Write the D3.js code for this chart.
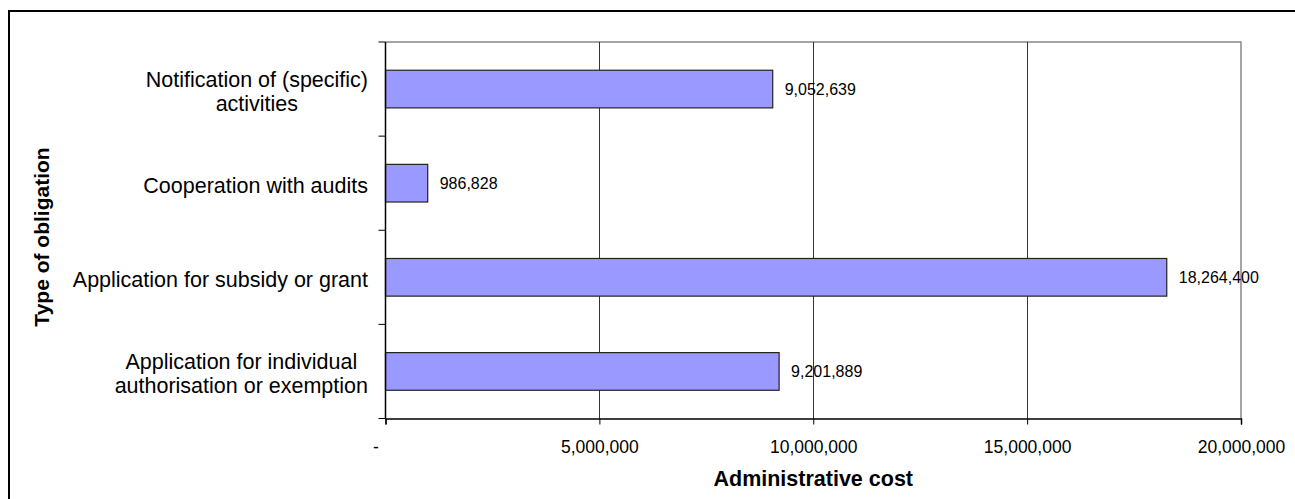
<!DOCTYPE html>
<html><head><meta charset="utf-8">
<script src="https://cdn.jsdelivr.net/npm/d3@7"></script>
<style>body{margin:0;background:#fff}svg{display:block;font-family:Arial,"Liberation Sans",sans-serif}</style>
</head><body><svg id="c" width="1295" height="499"></svg>
<script>
const categories = [
  ["Notification of (specific)", "activities"],
  ["Cooperation with audits"],
  ["Application for subsidy or grant"],
  ["Application for individual", "authorisation or exemption"]
];
const values = [9052639, 986828, 18264400, 9201889];
const xTicks = [0, 5000000, 10000000, 15000000, 20000000];
const xTitle = "Administrative cost";
const yTitle = "Type of obligation";

const svg = d3.select("#c");
const L = 385.5, R = 1241, T = 42, B = 418.5;

// outer frame
svg.append("rect").attr("x", 9).attr("y", 11).attr("width", 1300).attr("height", 500)
  .attr("fill", "none").attr("stroke", "#000").attr("stroke-width", 2);

const x = d3.scaleLinear().domain([0, 20000000]).range([L, R]);
const y = d3.scaleBand().domain(d3.range(categories.length)).range([T, B]).paddingInner(0.6).paddingOuter(0.3);
const yb = d3.scaleBand().domain(d3.range(categories.length)).range([T, B]);

// plot border (top/right gray)
svg.append("path").attr("d", `M${L},${T}H${R}V${B}`).attr("fill", "none").attr("stroke", "#888").attr("stroke-width", 1.5);

// gridlines
svg.append("g").selectAll("line").data(xTicks.slice(1, -1)).join("line")
  .attr("x1", d => Math.round(x(d)) + 0.5).attr("x2", d => Math.round(x(d)) + 0.5)
  .attr("y1", T).attr("y2", B).attr("stroke", "#000").attr("stroke-width", 0.8);

// bars
svg.append("g").selectAll("rect").data(values).join("rect")
  .attr("x", L).attr("y", (d, i) => y(i)).attr("width", d => x(d) - L).attr("height", y.bandwidth())
  .attr("fill", "#9999FF").attr("stroke", "#222").attr("stroke-width", 1.2);

// value labels
const fmt = d3.format(",");
svg.append("g").selectAll("text").data(values).join("text")
  .attr("x", d => x(d) + 12).attr("y", (d, i) => y(i) + y.bandwidth() / 2 + 5.5)
  .attr("font-size", 16).attr("fill", "#000").text(d => fmt(d));

// x axis
const xa = svg.append("g").attr("transform", `translate(0,${B})`)
  .call(d3.axisBottom(x).tickValues(xTicks).tickSize(6).tickPadding(20)
    .tickFormat(d => d === 0 ? "-" : fmt(d)));
xa.select(".domain").attr("stroke", "#000").attr("stroke-width", 1.5);
xa.selectAll(".tick line").attr("stroke", "#000");
xa.selectAll(".tick text").attr("font-size", 17.5).attr("fill", "#000")
  .attr("font-family", "Arial, 'Liberation Sans', sans-serif").attr("dy", null).attr("y", 34);
xa.selectAll(".tick text").filter(d => d === 0).attr("dx", -10);

// y axis line and ticks at band boundaries
svg.append("line").attr("x1", L).attr("x2", L).attr("y1", T).attr("y2", B).attr("stroke", "#000").attr("stroke-width", 1.5);
svg.append("g").selectAll("line").data(d3.range(categories.length + 1)).join("line")
  .attr("x1", L - 7).attr("x2", L).attr("y1", i => i < categories.length ? yb(i) : B).attr("y2", i => i < categories.length ? yb(i) : B)
  .attr("stroke", "#000").attr("stroke-width", 1);

// category labels (multi-line centered, right-aligned block)
const rightEdge = 368, fs = 21.5, lh = 24;
categories.forEach((lines, i) => {
  const g = svg.append("g");
  const cy = yb(i) + yb.bandwidth() / 2;
  const texts = lines.map((t, k) => g.append("text").attr("font-size", fs).attr("fill", "#000")
    .attr("text-anchor", "middle").attr("y", cy + (k - (lines.length - 1) / 2) * lh + fs * 0.44).text(t));
  const w = d3.max(texts, t => t.node().getComputedTextLength());
  texts.forEach(t => t.attr("x", rightEdge - w / 2));
});

// titles
svg.append("text").attr("x", (L + R) / 2).attr("y", 486).attr("text-anchor", "middle")
  .attr("font-size", 21.5).attr("font-weight", "bold").text(xTitle);
svg.append("text").attr("transform", `translate(49,237) rotate(-90)`).attr("text-anchor", "middle")
  .attr("font-size", 21).attr("font-weight", "bold").text(yTitle);
</script></body></html>
